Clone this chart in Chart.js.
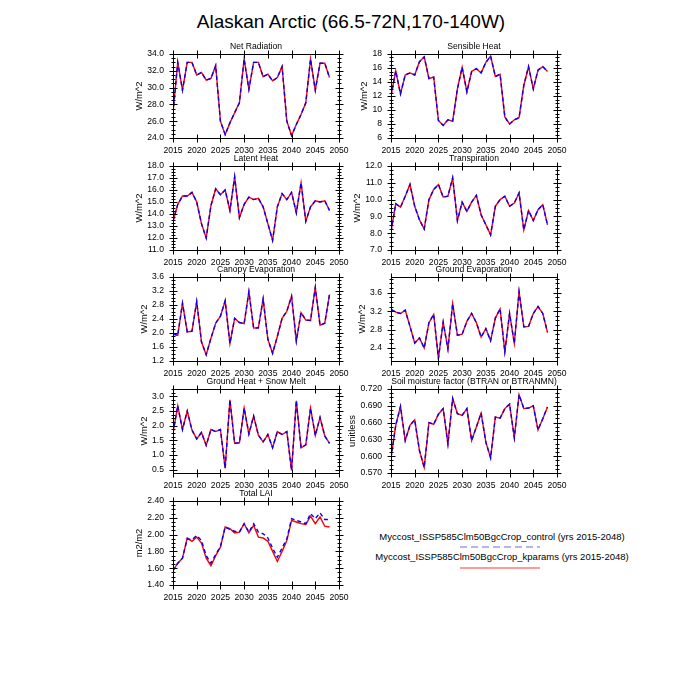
<!DOCTYPE html>
<html><head><meta charset="utf-8">
<script src="https://cdn.jsdelivr.net/npm/chart.js@4.4.1/dist/chart.umd.min.js"></script>
<style>
html,body{margin:0;padding:0;background:#fff}
#page{position:relative;width:700px;height:700px;overflow:hidden;font-family:"Liberation Sans",Arial,sans-serif;color:#000}
#page canvas{position:absolute}
#title{position:absolute;left:0;width:702px;top:10px;text-align:center;font-size:19px;line-height:24px}
.lg{position:absolute;font-size:9.5px;line-height:12px;white-space:nowrap;text-align:center;width:300px;left:352px}
.ln{position:absolute;left:460px;width:80px;height:1.5px}
</style></head>
<body><div id="page">
<div id="title">Alaskan Arctic (66.5-72N,170-140W)</div>
<div class="lg" id="lg1" style="top:531px"></div>
<div class="ln" style="top:546px;background:repeating-linear-gradient(to right,#b4b4f2 0 7px,transparent 7px 11px)"></div>
<div class="lg" id="lg2" style="top:551px"></div>
<div class="ln" style="top:567px;background:#ff9a9a"></div>
</div>
<script>
// ---------- data ----------
const years = [2015,2016,2017,2018,2019,2020,2021,2022,2023,2024,2025,2026,2027,2028,2029,2030,2031,2032,2033,2034,2035,2036,2037,2038,2039,2040,2041,2042,2043,2044,2045,2046,2047,2048];
const seriesNames = ["Myccost_ISSP585Clm50BgcCrop_control (yrs 2015-2048)", "Myccost_ISSP585Clm50BgcCrop_kparams (yrs 2015-2048)"];
const figTitle = "Alaskan Arctic (66.5-72N,170-140W)";
const panelTitles = ["Net Radiation","Sensible Heat","Latent Heat","Transpiration","Canopy Evaporation","Ground Evaporation","Ground Heat + Snow Melt","Soil moisture factor (BTRAN or BTRANMN)","Total LAI"];
const unitLabels = ["W/m^2","W/m^2","W/m^2","W/m^2","W/m^2","W/m^2","W/m^2","unitless","m2/m2"];
const xTicks = [2015,2020,2025,2030,2035,2040,2045,2050];

const netRadCtl = [27.0,33.0,29.7,33.0,33.0,31.5,31.8,30.9,31.1,32.6,26.0,24.4,25.8,27.0,28.2,33.4,29.8,33.0,33.0,31.3,31.6,30.8,31.2,32.5,26.0,24.3,25.6,26.8,28.2,33.4,29.7,32.9,32.9,31.2];
const netRadKp  = [27.0,33.0,29.7,33.0,33.0,31.5,31.8,30.9,31.1,32.6,26.0,24.4,25.8,27.0,28.2,33.4,29.8,33.0,33.0,31.3,31.6,30.8,31.2,32.5,26.0,24.3,25.6,26.8,28.2,33.4,29.7,32.9,32.9,31.2];
const sensCtl = [12.0,15.6,12.3,15.0,15.3,15.0,16.9,17.6,14.5,14.7,8.5,7.8,8.6,8.4,13.0,16.1,12.6,15.5,15.9,15.3,16.8,17.7,14.8,15.1,9.0,8.0,8.6,8.9,13.5,16.2,13.0,15.7,16.2,15.5];
const sensKp  = [12.0,15.6,12.3,15.0,15.3,15.0,16.9,17.6,14.5,14.7,8.5,7.8,8.6,8.4,13.0,16.1,12.6,15.5,15.9,15.3,16.8,17.7,14.8,15.1,9.0,8.0,8.6,8.9,13.5,16.2,13.0,15.7,16.2,15.5];
const latCtl = [13.4,14.8,15.5,15.5,15.8,15.0,13.2,12.0,14.7,16.1,15.6,16.0,14.3,17.1,13.7,14.8,15.4,15.2,15.3,14.6,13.2,11.8,14.6,15.7,15.2,15.8,14.1,16.6,13.4,14.6,15.1,15.0,15.1,14.3];
const latKp  = [13.4,14.8,15.5,15.5,15.8,15.0,13.2,12.0,14.7,16.1,15.6,16.0,14.3,17.1,13.7,14.8,15.4,15.2,15.3,14.6,13.2,11.8,14.6,15.7,15.2,15.8,14.1,16.6,13.4,14.6,15.1,15.0,15.1,14.3];
const trCtl = [8.1,9.75,9.55,10.2,10.9,9.6,8.8,8.25,10.0,10.6,10.9,10.15,10.2,11.3,8.75,9.85,9.3,9.85,10.25,9.1,8.5,7.9,9.6,10.0,10.2,9.6,9.8,10.4,8.2,9.35,8.75,9.4,9.7,8.5];
const trKp  = [8.1,9.75,9.55,10.2,10.9,9.6,8.8,8.25,10.0,10.6,10.9,10.15,10.2,11.3,8.75,9.85,9.3,9.85,10.25,9.1,8.5,7.9,9.6,10.0,10.2,9.6,9.8,10.4,8.2,9.35,8.75,9.4,9.7,8.5];
const canCtl = [1.97,1.93,2.85,2.03,2.05,2.90,1.75,1.38,1.85,2.28,2.48,2.92,1.70,2.42,2.30,2.27,3.18,2.14,2.15,2.97,1.82,1.42,1.90,2.42,2.62,3.05,1.77,2.58,2.37,2.36,3.30,2.22,2.28,3.10];
const canKp  = [1.97,1.93,2.85,2.03,2.05,2.90,1.75,1.38,1.85,2.28,2.48,2.92,1.70,2.42,2.30,2.27,3.18,2.14,2.15,2.97,1.82,1.42,1.90,2.42,2.62,3.05,1.77,2.58,2.37,2.36,3.30,2.22,2.28,3.10];
const gevCtl = [3.24,3.18,3.15,3.22,2.87,2.51,2.62,2.40,2.95,3.13,2.18,2.96,2.38,3.36,2.68,2.70,2.98,3.15,2.95,2.64,2.82,2.56,3.05,3.25,2.32,3.15,2.50,3.62,2.86,2.87,3.15,3.30,3.15,2.74];
const gevKp  = [3.24,3.18,3.15,3.22,2.87,2.51,2.62,2.40,2.95,3.13,2.18,2.96,2.38,3.36,2.68,2.70,2.98,3.15,2.95,2.64,2.82,2.56,3.05,3.25,2.32,3.15,2.50,3.62,2.86,2.87,3.15,3.30,3.15,2.74];
const ghCtl = [1.75,2.68,1.87,2.50,1.85,1.55,1.77,1.33,1.87,1.80,1.87,0.55,2.88,1.40,1.42,2.60,1.72,2.33,1.68,1.45,1.70,1.25,1.80,1.70,1.80,0.48,2.85,1.25,1.35,2.60,1.67,2.28,1.65,1.40];
const ghKp  = [1.75,2.68,1.87,2.50,1.85,1.55,1.77,1.33,1.87,1.80,1.87,0.55,2.88,1.40,1.42,2.60,1.72,2.33,1.68,1.45,1.70,1.25,1.80,1.70,1.80,0.48,2.85,1.25,1.35,2.60,1.67,2.28,1.65,1.40];
const smCtl = [0.597,0.655,0.689,0.628,0.655,0.665,0.610,0.580,0.660,0.657,0.675,0.685,0.622,0.703,0.676,0.673,0.685,0.628,0.652,0.677,0.625,0.597,0.670,0.668,0.685,0.693,0.633,0.710,0.685,0.686,0.690,0.647,0.667,0.688];
const smKp  = [0.597,0.655,0.689,0.628,0.655,0.665,0.610,0.580,0.660,0.657,0.675,0.685,0.622,0.703,0.676,0.673,0.685,0.628,0.652,0.677,0.625,0.597,0.670,0.668,0.685,0.693,0.633,0.710,0.685,0.686,0.690,0.647,0.667,0.688];
const laiCtl = [1.57,1.66,1.72,1.95,1.94,1.99,1.93,1.75,1.66,1.76,1.86,2.09,2.06,2.04,2.03,2.13,2.03,2.13,2.03,2.01,1.96,1.84,1.73,1.84,1.95,2.19,2.17,2.15,2.13,2.25,2.19,2.26,2.18,2.18];
const laiKp  = [1.57,1.66,1.72,1.96,1.92,1.97,1.90,1.72,1.63,1.75,1.85,2.09,2.07,2.02,2.03,2.13,2.02,2.11,1.97,1.96,1.92,1.80,1.68,1.80,1.93,2.17,2.15,2.13,2.12,2.22,2.13,2.21,2.10,2.09];

// y tick values and axis ranges
const netRadTicks = [24,26,28,30,32,34];
const sensTicks = [6,8,10,12,14,16,18];
const latTicks = [11,12,13,14,15,16,17,18];
const trTicks = [7,8,9,10,11,12];
const canTicks = [1.2,1.6,2.0,2.4,2.8,3.2,3.6];
const gevTicks = [2.4,2.8,3.2,3.6];
const ghTicks = [0.5,1.0,1.5,2.0,2.5,3.0];
const smTicks = [0.570,0.600,0.630,0.660,0.690,0.720];
const laiTicks = [1.40,1.60,1.80,2.00,2.20,2.40];
const yRanges = [[24,34],[6,18],[11,18],[7,12],[1.2,3.6],[2.12,3.94],[0.39,3.25],[0.570,0.720],[1.40,2.40]];
const yDecimals = [1,0,1,1,1,1,1,3,2];

const ctlSeries = [netRadCtl,sensCtl,latCtl,trCtl,canCtl,gevCtl,ghCtl,smCtl,laiCtl];
const kpSeries  = [netRadKp,sensKp,latKp,trKp,canKp,gevKp,ghKp,smKp,laiKp];
const yTickSets = [netRadTicks,sensTicks,latTicks,trTicks,canTicks,gevTicks,ghTicks,smTicks,laiTicks];

// ---------- layout ----------
const colLeft = [173, 391];
const rowTop = [54, 166, 277, 389, 501];
const PW = 166, PH = 84, ML = 48, MR = 14, MT = 16, MB = 20;
const FONT = '"Liberation Sans", Arial, sans-serif';

document.getElementById('lg1').textContent = seriesNames[0];
document.getElementById('lg2').textContent = seriesNames[1];
document.getElementById('title').textContent = figTitle;

const framePlugin = {
  id: 'nclFrame',
  afterDraw(chart, args, opts) {
    const {ctx, chartArea: a, scales: {x, y}} = chart;
    ctx.save();
    ctx.strokeStyle = '#000';
    ctx.lineWidth = 1;
    const L = Math.round(a.left) + 0.5, R = Math.round(a.right) + 0.5;
    const T = Math.round(a.top) + 0.5, B = Math.round(a.bottom) + 0.5;
    ctx.strokeRect(L, T, R - L, B - T);
    ctx.beginPath();
    // x major ticks
    x.ticks.forEach(t => {
      const px = Math.round(x.getPixelForValue(t.value)) + 0.5;
      ctx.moveTo(px, B - 4); ctx.lineTo(px, B + 4);
      ctx.moveTo(px, T - 4); ctx.lineTo(px, T + 4);
    });
    // y major + minor ticks
    const tv = y.ticks.map(t => t.value);
    const step = tv.length > 1 ? tv[1] - tv[0] : 1;
    const minor = step / 4;
    const start = tv[0] - Math.floor((tv[0] - y.min) / minor + 1e-6) * minor;
    for (let v = start, k = 0; v <= y.max + 1e-9; v += minor, k++) {
      const isMajor = tv.some(m => Math.abs(m - v) < minor * 0.1);
      const len = isMajor ? 4 : 2;
      const py = Math.round(y.getPixelForValue(v)) + 0.5;
      ctx.moveTo(L - len, py); ctx.lineTo(L + len, py);
      ctx.moveTo(R - len, py); ctx.lineTo(R + len, py);
    }
    ctx.stroke();
    // panel title
    ctx.fillStyle = '#000';
    ctx.font = '8.6px ' + FONT;
    ctx.textAlign = 'center';
    ctx.textBaseline = 'middle';
    ctx.fillText(opts.title, (a.left + a.right) / 2, a.top - 7);
    // y axis title
    let maxW = 0;
    y.ticks.forEach(t => { maxW = Math.max(maxW, ctx.measureText(t.label).width); });
    const cx = a.left - 9 - maxW - 8;
    ctx.translate(cx, (a.top + a.bottom) / 2);
    ctx.rotate(-Math.PI / 2);
    ctx.font = '9.4px ' + FONT;
    ctx.fillText(opts.unit, 0, 0);
    ctx.restore();
  }
};

for (let i = 0; i < 9; i++) {
  const col = i % 2, row = Math.floor(i / 2);
  const cv = document.createElement('canvas');
  cv.width = ML + PW + MR; cv.height = MT + PH + MB;
  cv.style.left = (colLeft[col] - ML) + 'px';
  cv.style.top = (rowTop[row] - MT) + 'px';
  document.getElementById('page').appendChild(cv);
  const ticksY = yTickSets[i], dec = yDecimals[i];
  new Chart(cv, {
    type: 'line',
    data: {
      datasets: [
        { label: seriesNames[0], data: years.map((yr, k) => ({x: yr, y: ctlSeries[i][k]})),
          borderColor: '#0000ff', borderWidth: 1.4, borderDash: [4, 3], pointRadius: 0, fill: false, tension: 0, order: 0 },
        { label: seriesNames[1], data: years.map((yr, k) => ({x: yr, y: kpSeries[i][k]})),
          borderColor: '#ff0000', borderWidth: 1.4, pointRadius: 0, fill: false, tension: 0, order: 1 }
      ]
    },
    options: {
      responsive: false, animation: false, devicePixelRatio: 1,
      layout: { padding: { top: MT, right: MR, left: 0, bottom: 0 } },
      plugins: { legend: { display: false }, tooltip: { enabled: false }, title: { display: false },
                 nclFrame: { title: panelTitles[i], unit: unitLabels[i] } },
      scales: {
        x: {
          type: 'linear', min: 2015, max: 2050,
          grid: { display: false, drawTicks: false }, border: { display: false },
          afterBuildTicks: s => { s.ticks = xTicks.map(v => ({value: v})); },
          afterFit: s => { s.height = MB; s.paddingLeft = 0; s.paddingRight = 0; },
          ticks: { autoSkip: false, maxRotation: 0, padding: 7, color: '#000',
                   font: { family: FONT, size: 8.6 }, callback: v => String(v) }
        },
        y: {
          type: 'linear', min: yRanges[i][0], max: yRanges[i][1],
          grid: { display: false, drawTicks: false }, border: { display: false },
          afterBuildTicks: s => { s.ticks = ticksY.map(v => ({value: v})); },
          afterFit: s => { s.width = ML; s.paddingTop = 0; s.paddingBottom = 0; },
          ticks: { autoSkip: false, padding: 9, color: '#000',
                   font: { family: FONT, size: 8.6 }, callback: v => Number(v).toFixed(dec) }
        }
      }
    },
    plugins: [framePlugin]
  });
}
</script>
</body></html>
